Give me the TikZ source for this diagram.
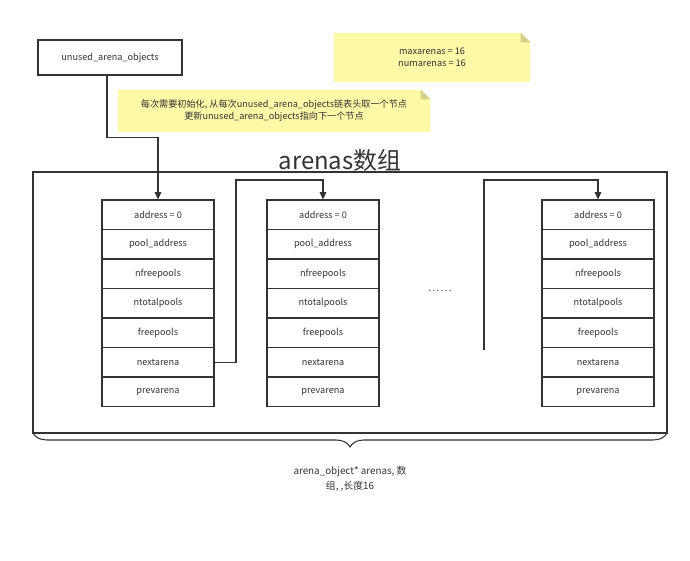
\documentclass[tikz,border=0pt]{standalone}
\usepackage{fontspec}
\setmainfont{Noto Sans CJK SC}
\usetikzlibrary{arrows.meta}
\usetikzlibrary{decorations.pathreplacing}
\definecolor{ink}{HTML}{333333}
\definecolor{notefill}{HTML}{FDF9A7}
\definecolor{notefold}{HTML}{D5D18C}
\def\cellw{2.24cm}
\def\cellh{0.59cm}
\def\rowpx{29.5}

\begin{document}
\begin{tikzpicture}[x=0.02cm, y=-0.02cm, line width=0.6pt, color=ink,
  font=\fontsize{5.2}{7}\selectfont,
  field/.style={draw, minimum width=\cellw, minimum height=\cellh, inner sep=0pt},
  link/.style={-{Triangle[length=4.2pt,width=3.8pt]}},
  note/.style={fill=notefill, inner sep=0pt, align=center},
  fold/.style={fill=notefold}]
	\useasboundingbox (0,0) rectangle (690,561);

	\node[draw, minimum width=2.88cm, minimum height=0.7cm] (unused) at (110,57.5) {unused\_arena\_objects};

	% notes
	\node[note, minimum width=3.92cm, minimum height=0.98cm] (limits) at (432,57.5) {maxarenas = 16\\numarenas = 16};
	\fill[white] (limits.north east) -- ++(-10,0) -- ++(10,10) -- cycle;
	\fill[fold] (limits.north east) ++(-10,0) -- ++(10,10) -- ++(-10,0) -- cycle;
	\node[note, minimum width=6.24cm, minimum height=0.84cm] (hint) at (274,111) {每次需要初始化, 从每次unused\_arena\_objects链表头取一个节点\\更新unused\_arena\_objects指向下一个节点};
	\fill[white] (hint.north east) -- ++(-10,0) -- ++(10,10) -- cycle;
	\fill[fold] (hint.north east) ++(-10,0) -- ++(10,10) -- ++(-10,0) -- cycle;

	% array
	\node[font=\fontsize{13.6}{15}\selectfont] (title) at (340,160) {arenas数组};
	\draw (33,172) rectangle (667,433);
	\draw[decorate, decoration={brace, mirror, amplitude=0.28cm}] (33,433) -- (667,433);
	\node[align=center, font=\fontsize{5.6}{8.5}\selectfont] (caption) at (350,479) {arena\_object* arenas, 数\\组, ,长度16};

	\foreach \c/\cx in {1/158,2/323,3/598}
		\foreach \f [count=\r] in {address = 0, pool\_address, nfreepools, ntotalpools, freepools, nextarena, prevarena}
			\node[field] (c\c-\r) at (\cx, {200+(\r-0.5)*\rowpx}) {\f};
	\node (dots) at (440,291) {.\,.\,.\,.\,.\,.};

	% links
	\coordinate (hop1) at (236,180);
	\coordinate (tail) at (484,350);
	\coordinate (hop2) at (484,180);
	\draw[link] ([xshift=-0.06cm]unused.south) -- ++(0,62) -| (c1-1.north);
	\draw[link] (c1-6.east) -| (hop1) -| (c2-1.north);
	\draw[link] (tail) -- (hop2) -| (c3-1.north);
\end{tikzpicture}
\end{document}
